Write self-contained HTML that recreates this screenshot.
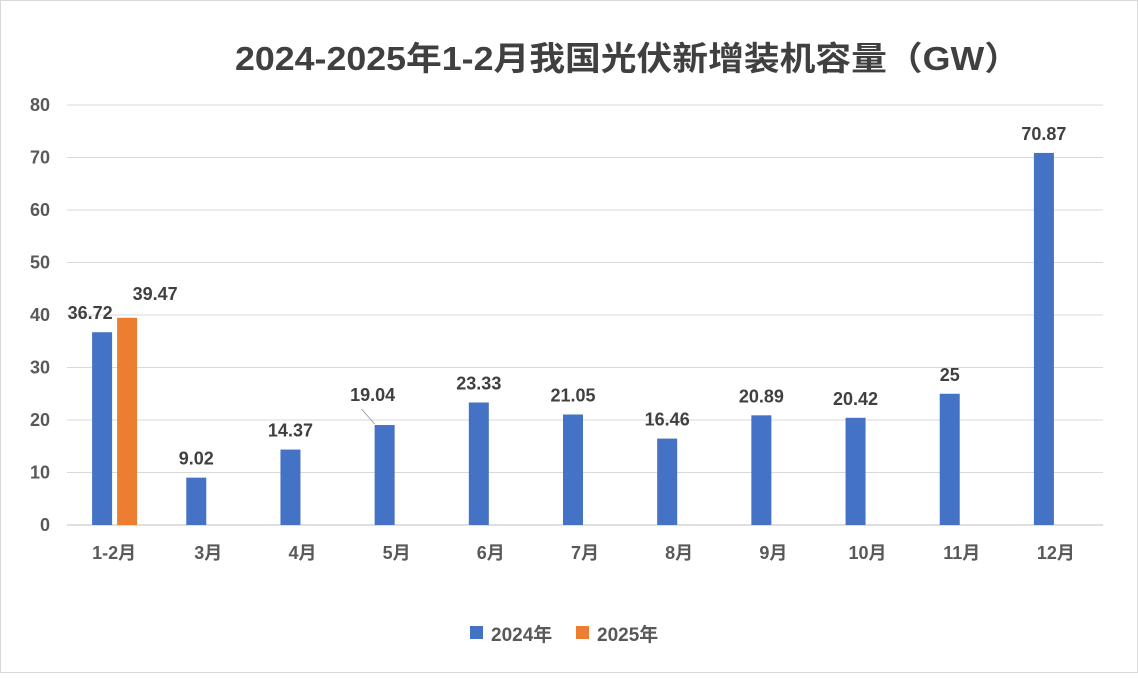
<!DOCTYPE html>
<html><head><meta charset="utf-8"><style>
body{margin:0;background:#fff;}
svg text{font-family:"Liberation Sans","Noto Sans CJK SC",sans-serif;}
</style></head><body>
<svg id="chart" width="1138" height="673" xmlns="http://www.w3.org/2000/svg">
<rect x="0.5" y="0.5" width="1137" height="672" fill="#fff" stroke="#d9d9d9"/>
<text x="235" y="70" textLength="785" lengthAdjust="spacingAndGlyphs" font-size="33" font-weight="bold" fill="#404040">2024-2025年1-2月我国光伏新增装机容量（GW）</text>
<g id="grid"></g><g id="bars"></g><g id="labels"></g>
<g>
<rect x="470" y="626" width="13" height="13" fill="#4472c4"/>
<text x="491" y="641" font-size="19" font-weight="bold" fill="#595959">2024年</text>
<rect x="576" y="626" width="13" height="13" fill="#ed7d31"/>
<text x="597" y="641" font-size="19" font-weight="bold" fill="#595959">2025年</text>
</g>
</svg>
<script>
const categories=["1-2月","3月","4月","5月","6月","7月","8月","9月","10月","11月","12月"];
const values2024=[36.72,9.02,14.37,19.04,23.33,21.05,16.46,20.89,20.42,25,70.87];
const values2025=[39.47,null,null,null,null,null,null,null,null,null,null];
const yTicks=[0,10,20,30,40,50,60,70,80];
const NS="http://www.w3.org/2000/svg";
const x0=67,x1=1103,yBase=525,yTop=105,yMax=80;
const step=(x1-x0)/categories.length;
const y=v=>yBase-(v/yMax)*(yBase-yTop);
const cx=i=>x0+step*(i+0.5);
function mk(tag,attrs,parent,txt){const e=document.createElementNS(NS,tag);for(const k in attrs)e.setAttribute(k,attrs[k]);if(txt!==undefined)e.textContent=txt;document.getElementById(parent).appendChild(e);return e;}
yTicks.forEach(t=>{
 const l=mk('line',{x1:x0,x2:x1,y1:y(t),y2:y(t),stroke:t===0?'#bfbfbf':'#d9d9d9','stroke-width':1},'grid');
 
 
 const tx=mk('text',{x:50,y:y(t)+6,'text-anchor':'end','font-size':18,'font-weight':'bold',fill:'#595959'},'grid',t);
 
 
});
categories.forEach((c,i)=>{
 const tx=mk('text',{x:cx(i),y:559,'text-anchor':'middle','font-size':18,'font-weight':'bold',fill:'#595959'},'grid',c);
 
 
 const v=values2024[i];
 if(v!=null){
  const b=mk('rect',{x:cx(i)-22,y:y(v),width:20,height:yBase-y(v),fill:'#4472c4'},'bars');
  
  
  let lx=cx(i)-12,ly=y(v)-13;
  if(i===0){lx=cx(i)-24;}
  if(i===3){lx=cx(i)-24;ly=y(v)-24;
   const ln=mk('line',{x1:cx(i)-35,y1:ly+8,x2:cx(i)-22,y2:y(v)-1,stroke:'#a6a6a6'},'labels');
   
   }
  const t=mk('text',{x:lx,y:ly,'text-anchor':'middle','font-size':18,'font-weight':'bold',fill:'#404040'},'labels',v);
  
  
 }
 const w=values2025[i];
 if(w!=null){
  const b=mk('rect',{x:cx(i)+3,y:y(w),width:20,height:yBase-y(w),fill:'#ed7d31'},'bars');
  
  
  const t=mk('text',{x:cx(i)+41,y:y(w)-18,'text-anchor':'middle','font-size':18,'font-weight':'bold',fill:'#404040'},'labels',w);
  
  
 }
});
</script>
</body></html>
